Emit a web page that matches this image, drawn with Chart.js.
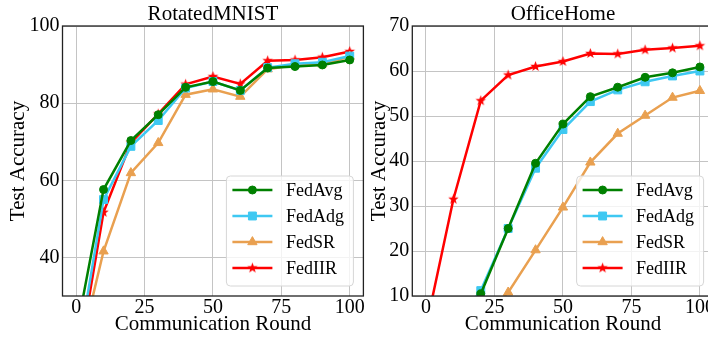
<!DOCTYPE html>
<html>
<head>
<meta charset="utf-8">
<script src="https://cdn.jsdelivr.net/npm/chart.js@4.4.1/dist/chart.umd.min.js"></script>
<style>
html, body { margin: 0; padding: 0; background: #fff; overflow: hidden; }
#wrap { position: relative; width: 708px; height: 337px; overflow: hidden; }
canvas { position: absolute; top: 0; }
#left { left: 0; }
#right { left: 354px; }
</style>
</head>
<body>
<div id="wrap">
  <canvas id="left" width="370" height="337" style="width:370px;height:337px"></canvas>
  <canvas id="right" width="370" height="337" style="width:370px;height:337px"></canvas>
</div>
<script>
const rounds = [0, 10, 20, 30, 40, 50, 60, 70, 80, 90, 100];
const methods = ['FedAvg', 'FedAdg', 'FedSR', 'FedIIR'];

const mnistAvg = [20.3, 57.6, 70.3, 77.0, 84.1, 85.6, 83.3, 89.1, 89.5, 89.9, 91.2];
const mnistAdg = [12.6, 55.0, 68.8, 75.5, 83.9, 85.6, 83.3, 89.2, 90.2, 90.6, 92.2];
const mnistSR  = [11.8, 41.6, 61.9, 69.7, 82.2, 83.6, 81.7, 88.8, 89.9, 90.1, 92.1];
const mnistIIR = [10.0, 51.7, 69.7, 77.2, 84.9, 86.9, 85.0, 91.0, 91.2, 91.9, 93.4];

const officeAvg = [1.5, 3.0, 10.5, 25.0, 39.5, 48.2, 54.3, 56.4, 58.6, 59.6, 60.9];
const officeAdg = [1.5, 3.0, 11.2, 25.0, 38.4, 47.0, 53.2, 55.8, 57.6, 58.9, 60.0];
const officeSR  = [1.5, 2.0, 5.0, 10.8, 20.2, 29.7, 39.7, 46.1, 50.1, 54.1, 55.6];
const officeIIR = [3.0, 31.5, 53.4, 59.1, 61.0, 62.1, 63.9, 63.8, 64.7, 65.1, 65.6];

const xTicks = [0, 25, 50, 75, 100];
const yTicksMnist = [40, 60, 80, 100];
const yTicksOffice = [10, 20, 30, 40, 50, 60, 70];

const colors = ['#008000', '#3ec8f2', '#e9a050', '#ff0000'];
const serif = 'Liberation Serif';

// filled star like matplotlib '*'
function makeStar(color) {
  const c = document.createElement('canvas');
  c.width = 13; c.height = 13;
  const g = c.getContext('2d');
  g.fillStyle = color;
  g.beginPath();
  for (let i = 0; i < 10; i++) {
    const r = i % 2 === 0 ? 5.5 : 2.3;
    const a = -Math.PI / 2 + i * Math.PI / 5;
    const px = 6.5 + r * Math.cos(a), py = 6.5 + r * Math.sin(a);
    if (i === 0) g.moveTo(px, py); else g.lineTo(px, py);
  }
  g.closePath();
  g.fill();
  return c;
}

const pointStyles = ['circle', 'rect', 'triangle', makeStar(colors[3])];
const pointSizes = [4, 5.6, 5.4, 4];

function makeDatasets(series) {
  return series.map((vals, i) => ({
    label: methods[i],
    data: rounds.map((r, j) => ({ x: r, y: vals[j] })),
    borderColor: colors[i],
    backgroundColor: colors[i],
    borderWidth: 2.5,
    pointStyle: pointStyles[i],
    pointRadius: pointSizes[i],
    pointBackgroundColor: colors[i],
    pointBorderColor: colors[i],
    pointBorderWidth: 1,
    tension: 0,
    clip: 0
  }));
}

// title over the plot area, legend box and the four spines
const panelDecor = {
  id: 'panelDecor',
  afterDraw(chart, args, opts) {
    const ctx = chart.ctx;
    const a = chart.chartArea;
    ctx.save();

    ctx.fillStyle = '#000';
    ctx.font = '21px "' + serif + '"';
    ctx.textAlign = 'center';
    ctx.textBaseline = 'middle';
    ctx.fillText(opts.title, (a.left + a.right) / 2, 14);

    const bw = 127, bh = 110;
    const bx = a.right - 10 - bw;
    const by = a.bottom - 10 - bh;
    ctx.beginPath();
    ctx.roundRect(bx, by, bw, bh, 4);
    ctx.fillStyle = 'rgba(255,255,255,0.8)';
    ctx.fill();
    ctx.strokeStyle = '#d6d6d6';
    ctx.lineWidth = 1;
    ctx.stroke();

    chart.data.datasets.forEach((ds, i) => {
      const y = by + 14 + i * 26;
      ctx.beginPath();
      ctx.moveTo(bx + 6, y);
      ctx.lineTo(bx + 46, y);
      ctx.strokeStyle = ds.borderColor;
      ctx.lineWidth = ds.borderWidth;
      ctx.stroke();
      ctx.fillStyle = ds.backgroundColor;
      ctx.strokeStyle = ds.borderColor;
      ctx.lineWidth = 1;
      Chart.helpers.drawPoint(ctx, {
        pointStyle: ds.pointStyle, radius: ds.pointRadius, rotation: 0, borderWidth: 1
      }, bx + 26, y);
      ctx.fillStyle = '#000';
      ctx.font = '18px "' + serif + '"';
      ctx.textAlign = 'left';
      ctx.textBaseline = 'middle';
      ctx.fillText(ds.label, bx + 59.5, y + 1);
    });

    ctx.strokeStyle = '#222';
    ctx.lineWidth = 1.3;
    ctx.strokeRect(a.left, a.top, a.right - a.left, a.bottom - a.top);
    ctx.restore();
  }
};

function makeChart(id, title, series, yMin, yMax, yTicks, yWidth, yTitlePad, rightPad) {
  return new Chart(document.getElementById(id), {
    type: 'line',
    data: { datasets: makeDatasets(series) },
    options: {
      responsive: false,
      animation: false,
      events: [],
      layout: { padding: { top: 26, right: rightPad, left: 0, bottom: 0 } },
      plugins: {
        legend: { display: false },
        tooltip: { enabled: false },
        panelDecor: { title: title }
      },
      scales: {
        x: {
          type: 'linear',
          min: -5,
          max: 105,
          afterBuildTicks: s => { s.ticks = xTicks.map(v => ({ value: v })); },
          afterFit: s => { s.height = 41; },
          grid: { color: '#c4c4c4', lineWidth: 1, drawTicks: false },
          border: { display: false },
          ticks: { color: '#000', font: { family: serif, size: 20 }, padding: 0, maxRotation: 0, autoSkip: false },
          title: {
            display: true, text: 'Communication Round', color: '#000',
            font: { family: serif, size: 21 }, padding: { top: 0, bottom: 0 }
          }
        },
        y: {
          type: 'linear',
          min: yMin,
          max: yMax,
          afterBuildTicks: s => { s.ticks = yTicks.map(v => ({ value: v })); },
          afterFit: s => { s.width = yWidth; },
          grid: { color: '#c4c4c4', lineWidth: 1, drawTicks: false },
          border: { display: false },
          ticks: { color: '#000', font: { family: serif, size: 20 }, padding: 3 },
          title: {
            display: true, text: 'Test Accuracy', color: '#000',
            font: { family: serif, size: 21 }, padding: { top: yTitlePad, bottom: 0 }
          }
        }
      }
    },
    plugins: [panelDecor]
  });
}

makeChart('left', 'RotatedMNIST', [mnistAvg, mnistAdg, mnistSR, mnistIIR],
  30, 100, yTicksMnist, 62.5, 5.5, 6.5);
makeChart('right', 'OfficeHome', [officeAvg, officeAdg, officeSR, officeIIR],
  10, 70, yTicksOffice, 58.3, 12.5, 10.4);
</script>
</body>
</html>
